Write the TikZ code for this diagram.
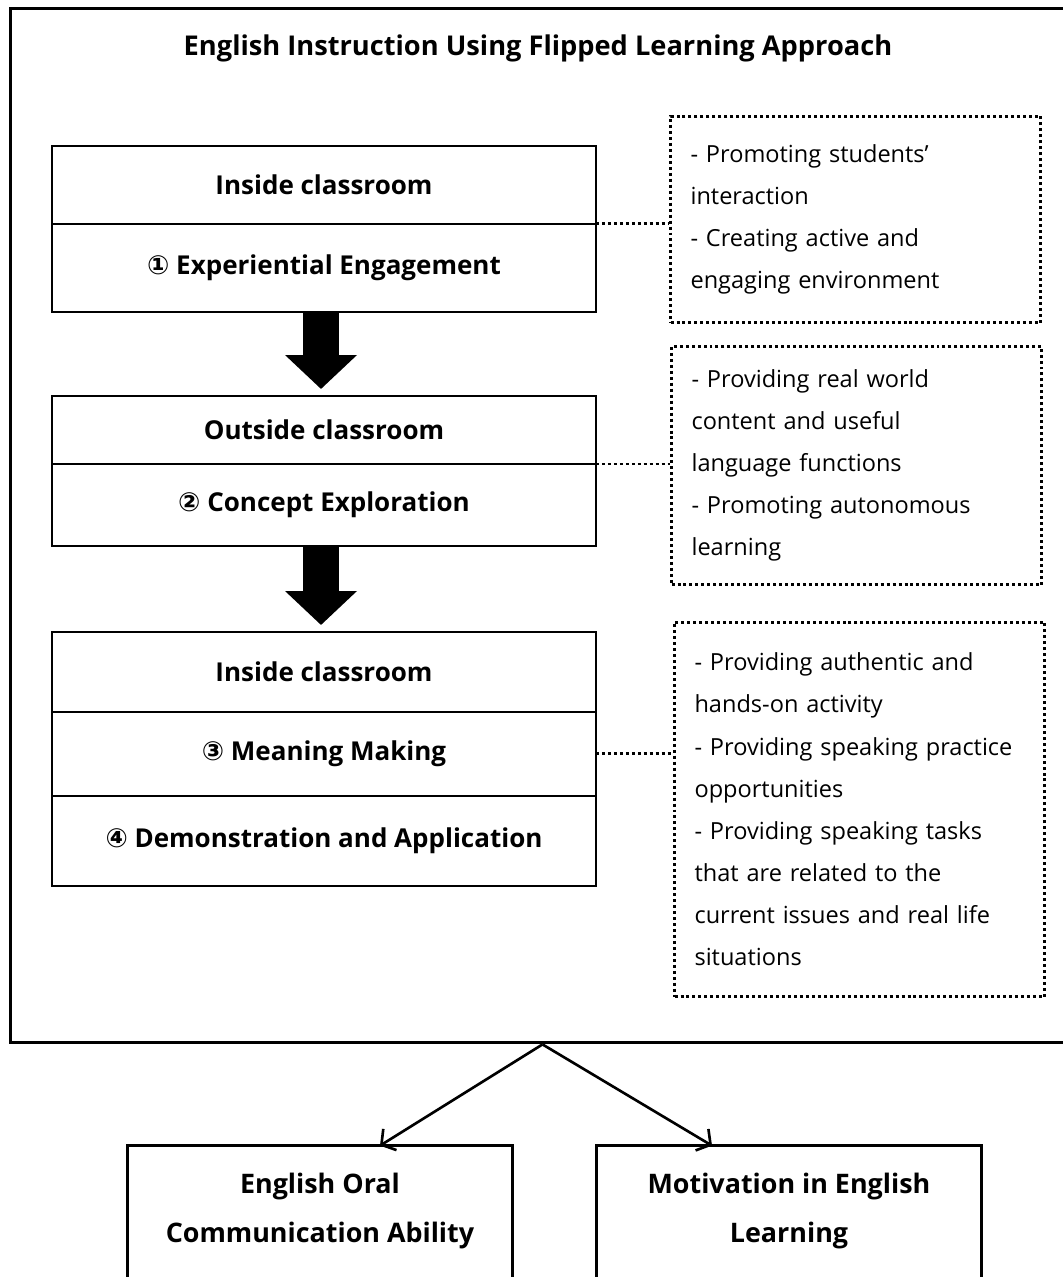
\documentclass[tikz,border=0pt]{standalone}
\usepackage{fontspec}
\setmainfont{Open Sans}
\newfontfamily\circfont{DejaVu Sans}
\usetikzlibrary{arrows.meta,positioning}

\newcommand{\circnum}[1]{{\circfont\bfseries\fontsize{15}{15}\selectfont #1}}

\tikzset{
  stepcell/.style = {draw, line width=1.6pt, minimum width=10.88cm, inner sep=0pt, outer sep=0pt,
                     font=\bfseries\fontsize{14.8}{17}\selectfont},
  notebox/.style  = {draw, line width=1.7pt, dash pattern=on 1.7pt off 1.7pt,
                     align=left, inner xsep=0.4cm, inner ysep=0pt, text width=6.6cm,
                     font=\fontsize{13.4}{24}\selectfont},
  dotline/.style  = {line width=1.7pt, dash pattern=on 1.7pt off 1.7pt},
  outcome/.style  = {minimum width=7.68cm, minimum height=2.6cm, align=center,
                     font=\bfseries\fontsize{15.3}{27.5}\selectfont},
  bigarrow/.style = {line width=0.72cm, shorten >=0.14cm,
                     -{Triangle[length=0.68cm,width=1.4cm]}},
  thinarrow/.style = {line width=1.5pt, -{Straight Barb[length=0.2cm,width=0.5cm]}}
}

\begin{document}
\begin{tikzpicture}[x=0.02cm, y=-0.02cm]
\useasboundingbox (0,0) rectangle (1062,1277);

% outer frame and title
\node[draw, line width=1.7pt, minimum width=21.3cm, minimum height=20.7cm] (frame) at (542.5,525.5) {};
\node[font=\bfseries\fontsize{15.5}{17}\selectfont] (title) at (538,48) {English Instruction Using Flipped Learning Approach};

% the three stages
\node[stepcell, minimum height=1.56cm] (in1) at (324,185) {Inside classroom};
\node[stepcell, minimum height=1.76cm, below=0pt of in1] (exp) {\circnum{①} Experiential Engagement};
\node[stepcell, minimum height=1.36cm] (out2) at (324,430) {Outside classroom};
\node[stepcell, minimum height=1.64cm, below=0pt of out2] (con) {\circnum{②} Concept Exploration};
\node[stepcell, minimum height=1.6cm] (in3) at (324,672) {Inside classroom};
\node[stepcell, minimum height=1.68cm, below=0pt of in3] (mean) {\circnum{③} Meaning Making};
\node[stepcell, minimum height=1.8cm, below=0pt of mean] (dem) {\circnum{④} Demonstration and Application};

\draw[bigarrow] ([xshift=-0.06cm]exp.south) -- ([xshift=-0.06cm]out2.north);
\draw[bigarrow] ([xshift=-0.06cm]con.south) -- ([xshift=-0.06cm]in3.north);

% notes
\node[notebox, minimum width=7.3cm, minimum height=4.14cm] (note1) at (855.5,219.5)
  {- Promoting students’\\interaction\\- Creating active and\\engaging environment};
\node[notebox, minimum width=7.34cm, minimum height=4.78cm] (note2) at (856.5,465.5)
  {- Providing real world\\content and useful\\language functions\\- Promoting autonomous\\learning};
\node[notebox, minimum width=7.3cm, minimum height=7.5cm] (note3) at (859.5,809.5)
  {- Providing authentic and\\hands-on activity\\- Providing speaking practice\\opportunities\\- Providing speaking tasks\\that are related to the\\current issues and real life\\situations};

\draw[dotline] (in1.south east) -- (in1.south east -| note1.west);
\draw[dotline] (con.north east) -- (con.north east -| note2.west);
\draw[dotline] (mean.east) -- (mean.east -| note3.west);

% outcomes
\node[outcome] (oral)  at (320,1211) {English Oral\\Communication Ability};
\node[outcome] (motiv) at (789,1211) {Motivation in English\\Learning};
\foreach \o in {oral, motiv}
  \draw[line width=1.6pt] ([yshift=-0.2cm]\o.south west) -- (\o.north west) -- (\o.north east) -- ([yshift=-0.2cm]\o.south east);

\coordinate (split) at (frame.south);
\draw[thinarrow] (split) -- ([xshift=1.2cm]oral.north);
\draw[thinarrow] (split) -- ([xshift=-1.54cm]motiv.north);
\end{tikzpicture}
\end{document}
